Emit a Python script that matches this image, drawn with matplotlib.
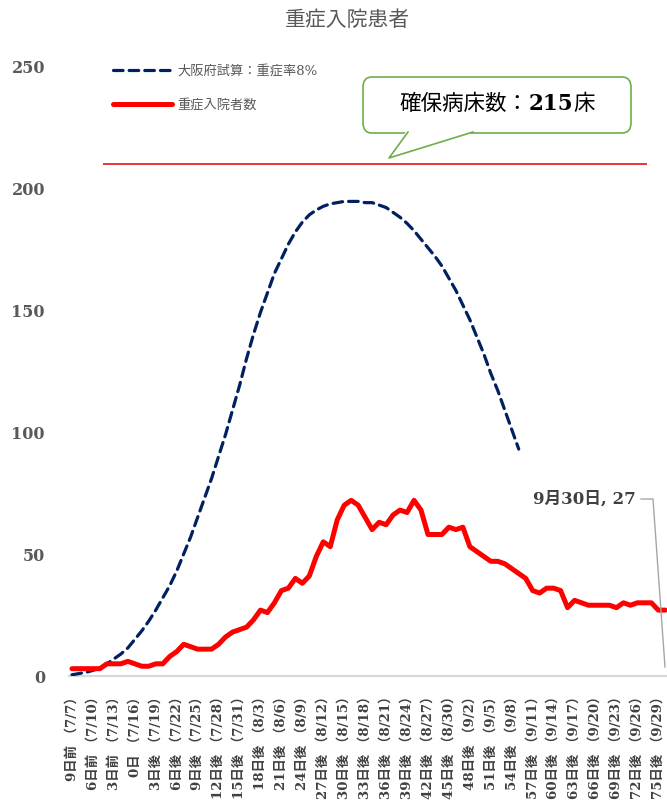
import matplotlib
matplotlib.use("Agg")
import matplotlib.pyplot as plt
from matplotlib.patches import FancyBboxPatch, Polygon
from matplotlib.lines import Line2D

# ---------------- data ----------------
# day index 0 = 7/7 (9日前) ... 85 = 9/30
actual_hospitalized = [3, 3, 3, 3, 3, 5, 5, 5, 6, 5,
                       4, 4, 5, 5, 8, 10, 13, 12, 11, 11,
                       11, 13, 16, 18, 19, 20, 23, 27, 26, 30,
                       35, 36, 40, 38, 41, 49, 55, 53, 64, 70,
                       72, 70, 65, 60, 63, 62, 66, 68, 67, 72,
                       68, 58, 58, 58, 61, 60, 61, 53, 51, 49,
                       47, 47, 46, 44, 42, 40, 35, 34, 36, 36,
                       35, 28, 31, 30, 29, 29, 29, 29, 28, 30,
                       29, 30, 30, 30, 27, 27]
osaka_estimate = [0.5, 1, 1.5, 2.3, 3.3, 5, 7, 9, 11.5, 15,
                  18.5, 22.5, 27, 32, 37, 43, 50, 57, 65, 73,
                  81, 90, 99, 109, 119, 130, 140, 149, 157, 165,
                  171, 177, 182, 186, 189, 191, 192.5, 193.5, 194, 194.5,
                  194.5, 194.5, 194, 194, 193, 192, 190, 188, 185.5, 182.5,
                  179, 175.5, 172, 168, 163, 158, 152, 146, 139, 132,
                  124, 117, 109, 101, 93]
bed_capacity_line = 210
bed_capacity_text = "215"
tick_positions = list(range(0, 86, 3))
tick_labels = ["9日前 （7/7）", "6日前 （7/10）", "3日前 （7/13）", "0日 （7/16）",
               "3日後 （7/19）", "6日後 （7/22）", "9日後 （7/25）", "12日後 （7/28）",
               "15日後 （7/31）", "18日後 （8/3）", "21日後 （8/6）", "24日後 （8/9）",
               "27日後 （8/12）", "30日後 （8/15）", "33日後 （8/18）", "36日後 （8/21）",
               "39日後 （8/24）", "42日後 （8/27）", "45日後 （8/30）", "48日後 （9/2）",
               "51日後 （9/5）", "54日後 （9/8）", "57日後 （9/11）", "60日後 （9/14）",
               "63日後 （9/17）", "66日後 （9/20）", "69日後 （9/23）", "72日後 （9/26）",
               "75日後 （9/29）"]
y_ticks = [0, 50, 100, 150, 200, 250]
series_labels = ["大阪府試算：重症率8%", "重症入院者数"]
title = "重症入院患者"
last_label = "9月30日, 27"

# ---------------- figure ----------------
W, H = 667, 805
fig = plt.figure(figsize=(W / 100, H / 100), dpi=100)
fig.patch.set_facecolor("white")

def fx(px):
    return px / W

def fy(py):
    return (H - py) / H

ax = fig.add_axes([fx(68.5), fy(676), 600.3 / W, 610 / H])
ax.set_xlim(-0.5, 85.5)
ax.set_ylim(0, 250)

navy = "#002060"
red = "#FF0000"
mixed = ["DejaVu Serif", "Noto Sans CJK JP"]

l_est, = ax.plot(range(len(osaka_estimate)), osaka_estimate, color=navy, lw=2.3,
                 linestyle=(0, (3, 1.9)), dash_capstyle="round", zorder=3)
l_act, = ax.plot(range(len(actual_hospitalized)), actual_hospitalized, color=red,
                 lw=3.6, solid_joinstyle="round", solid_capstyle="round", zorder=4)

# capacity line
ax.hlines(bed_capacity_line, 4.4, 82.4, color="#E00000", lw=1.1, zorder=2)

for s in ["left", "right", "top"]:
    ax.spines[s].set_visible(False)
ax.spines["bottom"].set_color("#D9D9D9")
ax.spines["bottom"].set_linewidth(1.6)

ax.set_yticks(y_ticks)
ax.set_yticklabels([str(v) for v in y_ticks], family="DejaVu Serif",
                   fontweight="bold", fontsize=11.5, color="#595959")
ax.tick_params(axis="y", length=0, pad=17)

ax.set_xticks(tick_positions)
ax.set_xticklabels(tick_labels, rotation=90, family=mixed, fontweight="semibold",
                   fontsize=9.6, color="#404040")
ax.tick_params(axis="x", length=0, pad=10)

# title
fig.text(fx(348), fy(20), title, ha="center", va="center", fontsize=15,
         family=["Noto Sans CJK JP"], color="#595959")

# legend
ax.legend([l_est, l_act], series_labels, loc="upper left",
          bbox_to_anchor=(fx(113), fy(65)), bbox_transform=fig.transFigure,
          frameon=False, borderpad=0, borderaxespad=0, handlelength=4.5,
          handletextpad=0.4, labelspacing=1.6,
          prop={"family": mixed, "size": 9.5}, labelcolor="#595959")

# callout box
green = "#70AD47"
bx0, by0, bx1, by1 = 363, 77, 631, 133
box = FancyBboxPatch((fx(bx0), fy(by1)), fx(bx1) - fx(bx0), fy(by0) - fy(by1),
                     boxstyle="round,pad=0,rounding_size=0.013",
                     transform=fig.transFigure, facecolor="white",
                     edgecolor=green, lw=1.2, zorder=5)
fig.add_artist(box)
tail_pts = [(fx(408), fy(by1 - 1)), (fx(389), fy(158)), (fx(473), fy(by1 - 1))]
tail_fill = Polygon([(fx(406), fy(by1 - 1.5)), (fx(389), fy(158)), (fx(475), fy(by1 - 1.5))],
                    closed=True, transform=fig.transFigure, facecolor="white",
                    edgecolor="none", zorder=6)
fig.add_artist(tail_fill)
fig.add_artist(Line2D([p[0] for p in tail_pts], [p[1] for p in tail_pts],
                      transform=fig.transFigure, color=green, lw=1.2, zorder=7))

# mixed-font callout text
pieces = [("確保病床数：", dict(family=["Noto Sans CJK JP"], fontsize=15.5, weight="regular")),
          (bed_capacity_text, dict(family="DejaVu Serif", fontsize=15.5, weight="bold")),
          ("床", dict(family=["Noto Sans CJK JP"], fontsize=15.5, weight="regular"))]
renderer = fig.canvas.get_renderer()
objs = []
widths = []
for txt, kw in pieces:
    t = fig.text(0, fy(104), txt, ha="left", va="center", color="black", zorder=8, **kw)
    w = t.get_window_extent(renderer=renderer).width
    objs.append(t)
    widths.append(w)
total = sum(widths)
x = 497 - total / 2
for t, w in zip(objs, widths):
    t.set_x(fx(x))
    x += w

# last point annotation
fig.text(fx(636), fy(499), last_label, ha="right", va="center", family=mixed,
         fontweight="bold", fontsize=12, color="#404040")
fig.add_artist(Line2D([fx(641), fx(653), fx(665)], [fy(499), fy(499), fy(667)],
                      transform=fig.transFigure, color="#A6A6A6", lw=1.0, zorder=6))

fig.savefig("out.png", dpi=100, facecolor="white")
